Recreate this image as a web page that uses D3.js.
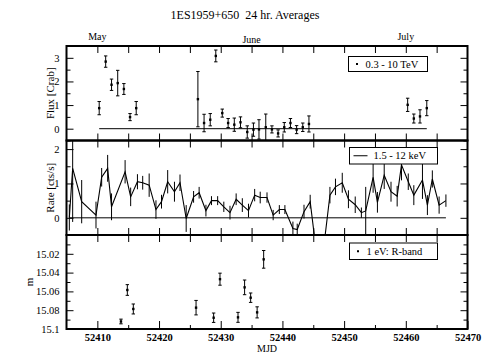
<!DOCTYPE html>
<html>
<head>
<meta charset="utf-8">
<script src="https://cdn.jsdelivr.net/npm/d3@7"></script>
<style>
  body { margin: 0; background: #fff; }
  text { font-family: "Liberation Serif", "Times New Roman", serif; fill: #000; }
</style>
</head>
<body>
<svg id="chart" width="487" height="355"></svg>
<script>
// TeV flux (0.3 - 10 TeV), Crab units
const tevMjd  = [52410.3, 52411.35, 52412.3, 52413.3, 52414.3, 52415.3, 52416.3,
                 52426.3, 52427.3, 52428.3, 52429.2, 52430.25, 52431.2, 52432.2, 52433.2,
                 52434.3, 52435.3, 52436.2, 52437.3, 52438.3, 52439.3, 52440.3, 52441.3,
                 52442.3, 52443.3, 52444.3, 52460.3, 52461.3, 52462.3, 52463.4];
const tevFlux = [0.87, 2.84, 1.86, 1.93, 1.68, 0.49, 0.87,
                 1.25, 0.24, 0.38, 3.08, 0.66, 0.24, 0.17, 0.27,
                 -0.14, -0.04, -0.03, 0.06, -0.03, -0.20, 0.06, 0.24,
                 -0.04, 0.06, 0.20, 1.01, 0.43, 0.52, 0.87];
const tevErr  = [0.28, 0.24, 0.24, 0.54, 0.23, 0.15, 0.28,
                 1.17, 0.37, 0.26, 0.25, 0.17, 0.19, 0.28, 0.23,
                 0.26, 0.28, 0.41, 0.56, 0.15, 0.15, 0.20, 0.19,
                 0.17, 0.18, 0.34, 0.28, 0.19, 0.28, 0.32];

// X-ray rate (1.5 - 12 keV), cts/s
const xrayMjd  = [52405.46, 52406.0, 52407.46, 52409.78, 52410.7, 52411.67, 52412.3,
                  52414.5, 52415.4, 52416.5, 52417.35, 52418.4, 52419.5, 52420.4,
                  52421.4, 52422.5, 52423.4, 52424.4, 52425.6, 52426.5, 52427.6,
                  52428.5, 52429.5, 52430.5, 52431.5, 52432.5, 52433.5, 52434.5,
                  52435.5, 52436.4, 52437.5, 52438.5, 52439.5, 52440.4, 52441.7,
                  52442.4, 52443.5, 52444.5, 52445.5, 52446.6, 52447.7, 52448.6,
                  52449.7, 52450.7, 52451.8, 52452.8, 52453.5, 52454.7, 52455.4,
                  52456.5, 52457.6, 52458.6, 52459.3, 52460.4, 52461.3, 52462.7,
                  52463.5, 52464.3, 52465.4, 52466.5];
const xrayRate = [0.01, 1.44, 0.47, 0.08, 1.18, 1.44, 0.32,
                  1.34, 0.61, 1.05, 1.02, 0.95, 0.24, 0.47,
                  1.05, 0.76, 1.02, -0.02, 0.61, 0.73, 0.21,
                  0.50, 0.50, 0.32, 0.15, 0.54, 0.37, 0.21,
                  0.66, 0.59, 0.59, 0.08, 0.24, 0.24, -0.31,
                  -0.34, 0.18, 0.47, -1.0, -1.0, 0.66, 0.90,
                  1.02, 0.54, 0.38, 0.15, 0.20, 1.18, 0.45,
                  1.24, 0.76, 0.63, 1.54, 1.05, 0.66, 1.10,
                  0.37, 1.13, 0.37, 0.50];
const xrayErr  = [0.38, 1.56, 0.63, 0.39, 0.27, 0.39, 0.39,
                  0.34, 0.27, 0.22, 0.20, 0.34, 0.27, 0.20,
                  0.34, 0.29, 0.24, 0.39, 0.17, 0.17, 0.17,
                  0.13, 0.13, 0.15, 0.20, 0.17, 0.20, 0.20,
                  0.18, 0.17, 0.15, 0.15, 0.13, 0.13, 0.20,
                  0.17, 0.20, 0.20, 0.20, 0.20, 0.24, 0.24,
                  0.29, 0.26, 0.24, 0.15, 0.70, 0.45, 0.30,
                  0.40, 0.29, 0.30, 0.45, 0.24, 0.29, 0.55,
                  0.29, 0.25, 0.25, 0.18];

// Optical R-band magnitude
const optMjd = [52413.83, 52414.86, 52415.83, 52426.0, 52428.85, 52429.88,
                52432.8, 52433.87, 52434.85, 52435.9, 52436.96];
const optMag = [15.092, 15.0585, 15.0787, 15.0773, 15.088, 15.047,
                15.0876, 15.0557, 15.0667, 15.0823, 15.0259];
const optErr = [0.0025, 0.0057, 0.0053, 0.0077, 0.005, 0.0064,
                0.0053, 0.0078, 0.005, 0.0059, 0.0094];

const monthNames = ["May", "June", "July"];
const monthMjd = [52410, 52435, 52460];

const svg = d3.select("#chart");
const left = 66.5, right = 467.5;
const x = d3.scaleLinear().domain([52405, 52470]).range([left, right]);

const panels = [
  { top: 46, bottom: 140.5, domain: [-0.5, 3.5], major: [0, 1, 2, 3], minor: d3.range(-0.5, 3.51, 0.5),
    label: "Flux [Crab]", labelX: 53.5, fmt: d3.format("d") },
  { top: 140.5, bottom: 235, domain: [-0.5, 2.25], major: [0, 1, 2], minor: d3.range(-0.5, 2.01, 0.5),
    label: "Rate [cts/s]", labelX: 53.5, fmt: d3.format("d") },
  { top: 235, bottom: 329, domain: [15.0, 15.1], major: [15.02, 15.04, 15.06, 15.08, 15.1],
    minor: d3.range(15.0, 15.1001, 0.01), label: "m", labelX: 33, fmt: d => d === 15.1 ? "15.1" : d3.format(".2f")(d) }
];
panels.forEach(p => {
  p.y = d3.scaleLinear().domain(p.domain).range([p.bottom, p.top]);
});
// magnitude axis runs downward (bright at top)
panels[2].y = d3.scaleLinear().domain([15.0, 15.1]).range([panels[2].top, panels[2].bottom]);

const xMinor = d3.range(52405, 52470.1, 5);
const xMajor = d3.range(52410, 52470.1, 10);

panels.forEach((p, i) => {
  const clipId = "clip" + i;
  svg.append("clipPath").attr("id", clipId)
    .append("rect").attr("x", left).attr("y", p.top).attr("width", right - left).attr("height", p.bottom - p.top);
  p.clip = `url(#${clipId})`;

  // top & bottom ticks every 5 days, pointing inward
  svg.append("g").attr("transform", `translate(0,${p.top})`)
    .call(d3.axisTop(x).tickValues(xMinor.filter(v => v > 52405 && v < 52470)).tickSize(-7).tickFormat(""));
  if (i < 2) {
    svg.append("g").attr("transform", `translate(0,${p.bottom})`)
      .call(d3.axisBottom(x).tickValues(xMinor.filter(v => v > 52405 && v < 52470)).tickSize(-7).tickFormat(""));
  } else {
    svg.append("g").attr("transform", `translate(0,${p.bottom})`)
      .call(d3.axisBottom(x).tickValues(xMinor.filter(v => v % 10 !== 0 && v > 52405)).tickSize(-4).tickFormat(""));
    const bx = svg.append("g").attr("class", "xlab").attr("transform", `translate(0,${p.bottom})`)
      .call(d3.axisBottom(x).tickValues(xMajor).tickSize(-8).tickPadding(5).tickFormat(d3.format("d")));
    bx.selectAll("text").attr("font-size", 10.5).attr("font-weight", "bold")
      .attr("font-family", "Liberation Serif");
  }

  // left axis: major ticks with labels, minor ticks
  const minorVals = p.minor.filter(v => !p.major.some(m => Math.abs(m - v) < 1e-6));
  svg.append("g").attr("transform", `translate(${left},0)`)
    .call(d3.axisLeft(p.y).tickValues(minorVals).tickSize(-4).tickFormat(""));
  const ly = svg.append("g").attr("transform", `translate(${left},0)`)
    .call(d3.axisLeft(p.y).tickValues(p.major).tickSize(-7).tickPadding(7).tickFormat(p.fmt));
  ly.selectAll("text").attr("font-size", 10.5).attr("font-family", "Liberation Serif");

  // right axis ticks
  svg.append("g").attr("transform", `translate(${right},0)`)
    .call(d3.axisRight(p.y).tickValues(minorVals).tickSize(-4).tickFormat(""));
  svg.append("g").attr("transform", `translate(${right},0)`)
    .call(d3.axisRight(p.y).tickValues(p.major.filter(v => v !== 15.1)).tickSize(-7).tickFormat(""));

  svg.append("text")
    .attr("transform", `translate(${p.labelX},${(p.top + p.bottom) / 2}) rotate(-90)`)
    .attr("text-anchor", "middle").attr("font-size", 11).text(p.label);
});

svg.selectAll(".domain").remove();
svg.selectAll(".tick line").attr("stroke", "#000").attr("stroke-width", 1);

// ---- top panel: TeV ----
const pT = panels[0];
const gT = svg.append("g").attr("clip-path", pT.clip);
gT.append("line")
  .attr("x1", x(d3.min(tevMjd))).attr("x2", x(d3.max(tevMjd)))
  .attr("y1", pT.y(0)).attr("y2", pT.y(0)).attr("stroke", "#000");
function errorBars(g, xs, ys, es, yScale, caps) {
  const pts = xs.map((m, k) => ({ m, v: ys[k], e: es[k] }));
  const sel = g.selectAll(null).data(pts).enter().append("g");
  sel.append("line")
    .attr("x1", d => x(d.m)).attr("x2", d => x(d.m))
    .attr("y1", d => yScale(d.v - d.e)).attr("y2", d => yScale(d.v + d.e))
    .attr("stroke", "#000").attr("stroke-width", 1);
  if (caps) {
    [-1, 1].forEach(s => {
      sel.append("line")
        .attr("x1", d => x(d.m) - 1.7).attr("x2", d => x(d.m) + 1.7)
        .attr("y1", d => yScale(d.v + s * d.e)).attr("y2", d => yScale(d.v + s * d.e))
        .attr("stroke", "#000").attr("stroke-width", 1);
    });
    sel.append("rect")
      .attr("x", d => x(d.m) - 1.2).attr("y", d => yScale(d.v) - 1.2)
      .attr("width", 2.4).attr("height", 2.4).attr("fill", "#000");
  }
}
errorBars(gT, tevMjd, tevFlux, tevErr, pT.y, true);

// ---- middle panel: X-ray ----
const pX = panels[1];
const gX = svg.append("g").attr("clip-path", pX.clip);
gX.append("line")
  .attr("x1", x(d3.min(xrayMjd))).attr("x2", x(d3.max(xrayMjd)))
  .attr("y1", pX.y(0)).attr("y2", pX.y(0)).attr("stroke", "#000");
errorBars(gX, xrayMjd, xrayRate, xrayErr, pX.y, false);
gX.append("path")
  .datum(xrayMjd.map((m, k) => [m, xrayRate[k]]))
  .attr("fill", "none").attr("stroke", "#000").attr("stroke-width", 1.1)
  .attr("d", d3.line().x(d => x(d[0])).y(d => pX.y(d[1])));

// ---- bottom panel: optical ----
const pO = panels[2];
const gO = svg.append("g").attr("clip-path", pO.clip);
errorBars(gO, optMjd, optMag, optErr, pO.y, true);

// frames
panels.forEach(p => {
  svg.append("rect").attr("x", left).attr("y", p.top)
    .attr("width", right - left).attr("height", p.bottom - p.top)
    .attr("fill", "none").attr("stroke", "#000").attr("stroke-width", 2);
});

// legends
function legend(x0, y0, w, h, kind, label) {
  const g = svg.append("g");
  g.append("rect").attr("x", x0).attr("y", y0).attr("width", w).attr("height", h)
    .attr("fill", "#fff").attr("stroke", "#000").attr("stroke-width", 1);
  if (kind === "dot") {
    g.append("rect").attr("x", x0 + 7.5).attr("y", y0 + h / 2 - 1).attr("width", 2).attr("height", 2).attr("fill", "#000");
    g.append("text").attr("x", x0 + 17).attr("y", y0 + h / 2 + 3.5).attr("font-size", 10.5).text(label);
  } else {
    g.append("line").attr("x1", x0 + 4).attr("x2", x0 + 18).attr("y1", y0 + h / 2).attr("y2", y0 + h / 2)
      .attr("stroke", "#000");
    g.append("text").attr("x", x0 + 24).attr("y", y0 + h / 2 + 3.5).attr("font-size", 10.5).text(label);
  }
}
legend(348.5, 56.5, 79, 15, "dot", "0.3 - 10 TeV");
legend(349.5, 147.5, 88, 16.5, "line", "1.5 - 12 keV");
legend(349.5, 243, 88, 16.5, "dot", "1 eV: R-band");

// month labels above top panel
svg.selectAll(".month").data(monthNames).enter().append("text")
  .attr("class", "month")
  .attr("x", (d, k) => x(monthMjd[k]))
  .attr("y", (d, k) => k === 1 ? 43 : 40)
  .attr("text-anchor", "middle").attr("font-size", 10).text(d => d);

// titles
svg.append("text").attr("x", 245).attr("y", 19).attr("text-anchor", "middle")
  .attr("font-size", 12).attr("xml:space", "preserve").text("1ES1959+650  24 hr. Averages");
svg.append("text").attr("x", x(52437.5)).attr("y", 352).attr("text-anchor", "middle")
  .attr("font-size", 10).text("MJD");
</script>
</body>
</html>
